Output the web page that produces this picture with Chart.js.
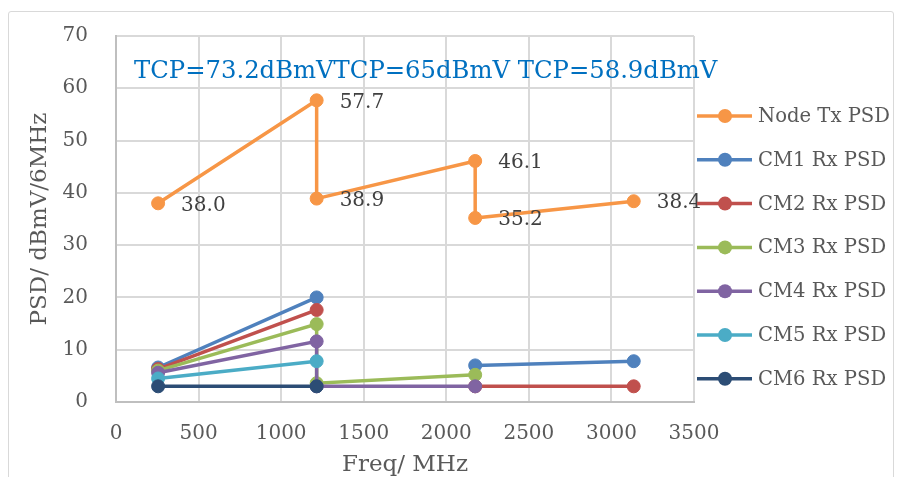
<!DOCTYPE html>
<html>
<head>
<meta charset="utf-8">
<script src="https://cdn.jsdelivr.net/npm/chart.js@4.4.1/dist/chart.umd.min.js"></script>
<style>
  html, body { margin: 0; padding: 0; background: #fff; }
  #wrap { position: relative; width: 902px; height: 477px; overflow: hidden; }
  #frame { position: absolute; left: 8px; top: 11px; width: 884px; height: 490px; border: 1.5px solid #d9d9d9; border-radius: 3px; }
  canvas { position: absolute; left: 0; top: 0; }
</style>
</head>
<body>
<div id="wrap">
  <div id="frame"></div>
  <canvas id="myChart" width="902" height="477"></canvas>
</div>
<script>
// Node transmit PSD (frequency in MHz, PSD in dBmV/6MHz)
const nodeFreq = [255, 1215, 1215, 2175, 2175, 3135];
const nodeTx = [38.0, 57.7, 38.9, 46.1, 35.2, 38.4];

// CM receive PSD, null = no point / break in line
const cmFreq = [255, 1215, 1215, 2175, 3135];
const cm1 = [6.6, 20.0, null, 7.0, 7.8];
const cm2 = [6.3, 17.6, null, 3.0, 3.0];
const cm3 = [6.0, 14.9, 3.6, 5.2, null];
const cm4 = [5.6, 11.6, 3.0, 3.0, null];
const cm5 = [4.5, 7.8, null, null, null];
const cm6 = [3.0, 3.0, null, null, null];

const seriesNames = ["Node Tx PSD", "CM1 Rx PSD", "CM2 Rx PSD", "CM3 Rx PSD", "CM4 Rx PSD", "CM5 Rx PSD", "CM6 Rx PSD"];
const tcpNote = "TCP=73.2dBmVTCP=65dBmV TCP=58.9dBmV";

const colors = ["#f79646", "#4f81bd", "#c0504d", "#9bbb59", "#8064a2", "#4bacc6", "#2c4d75"];
const serif = '"DejaVu Serif", serif';

const toPoints = (xs, ys) => xs.map((x, i) => ({ x: x, y: ys[i] }));
const allSeries = [toPoints(nodeFreq, nodeTx)].concat(
  [cm1, cm2, cm3, cm4, cm5, cm6].map((s) => toPoints(cmFreq, s))
);

const datasets = allSeries.map((pts, i) => ({
  label: seriesNames[i],
  data: pts,
  showLine: true,
  borderColor: colors[i],
  backgroundColor: colors[i],
  pointBackgroundColor: colors[i],
  pointBorderColor: colors[i],
  borderWidth: 3.5,
  pointRadius: 6.5,
  pointBorderWidth: 1,
  order: seriesNames.length - i, // later series on top, like the original
}));

// value labels on the Node Tx series
const pointLabels = {
  id: "pointLabels",
  afterDatasetsDraw(chart) {
    const ctx = chart.ctx;
    const meta = chart.getDatasetMeta(0);
    ctx.save();
    ctx.font = "20px " + serif;
    ctx.fillStyle = "#404040";
    ctx.textBaseline = "middle";
    meta.data.forEach((pt, i) => {
      ctx.fillText(nodeTx[i].toFixed(1), pt.x + 23, pt.y + 2);
    });
    ctx.restore();
  },
};

const tcpText = {
  id: "tcpText",
  afterDatasetsDraw(chart) {
    const { ctx, chartArea } = chart;
    ctx.save();
    ctx.font = "24.3px " + serif;
    ctx.fillStyle = "#0070c0";
    ctx.textBaseline = "middle";
    ctx.fillText(tcpNote, chartArea.left + 18, chartArea.top + 36);
    ctx.restore();
  },
};

// line + marker legend on the right
const lineLegend = {
  id: "lineLegend",
  afterDraw(chart) {
    const { ctx, chartArea } = chart;
    const x0 = chartArea.right + 3;
    ctx.save();
    ctx.font = "19.6px " + serif;
    ctx.textBaseline = "middle";
    chart.data.datasets.forEach((ds, i) => {
      const y = 116 + i * 43.8;
      ctx.strokeStyle = ds.borderColor;
      ctx.lineWidth = 3.5;
      ctx.beginPath();
      ctx.moveTo(x0, y);
      ctx.lineTo(x0 + 55, y);
      ctx.stroke();
      ctx.fillStyle = ds.borderColor;
      ctx.beginPath();
      ctx.arc(x0 + 28, y, 7, 0, Math.PI * 2);
      ctx.fill();
      ctx.fillStyle = "#595959";
      ctx.fillText(ds.label, x0 + 61, y + 1);
    });
    ctx.restore();
  },
};

new Chart(document.getElementById("myChart"), {
  type: "scatter",
  data: { datasets: datasets },
  plugins: [pointLabels, tcpText, lineLegend],
  options: {
    responsive: false,
    animation: false,
    events: [],
    layout: { padding: { left: 20, right: 208, top: 36, bottom: 0 } },
    plugins: {
      legend: { display: false },
      tooltip: { enabled: false },
    },
    scales: {
      x: {
        type: "linear",
        min: 0,
        max: 3500,
        afterFit: (s) => { s.height = 75; },
        ticks: {
          stepSize: 500,
          padding: 0,
          color: "#595959",
          font: { family: serif, size: 20 },
          callback: (v) => String(v),
        },
        grid: { color: "#d9d9d9", lineWidth: 2, tickLength: 20, tickColor: "rgba(0,0,0,0)" },
        border: { color: "#bfbfbf", width: 2 },
        title: {
          display: true,
          text: "Freq/ MHz",
          color: "#595959",
          font: { family: serif, size: 23, lineHeight: 1 },
          padding: { top: 0, bottom: 0 },
        },
      },
      y: {
        min: 0,
        max: 70,
        afterFit: (s) => { s.width = 96; },
        ticks: { stepSize: 10, padding: 0, color: "#595959", font: { family: serif, size: 20 } },
        grid: { color: "#d9d9d9", lineWidth: 2, tickLength: 28, tickColor: "rgba(0,0,0,0)" },
        border: { color: "#bfbfbf", width: 2 },
        title: {
          display: true,
          text: "PSD/ dBmV/6MHz",
          color: "#595959",
          font: { family: serif, size: 23, lineHeight: 1 },
          padding: { top: 9, bottom: 0 },
        },
      },
    },
  },
});
</script>
</body>
</html>
